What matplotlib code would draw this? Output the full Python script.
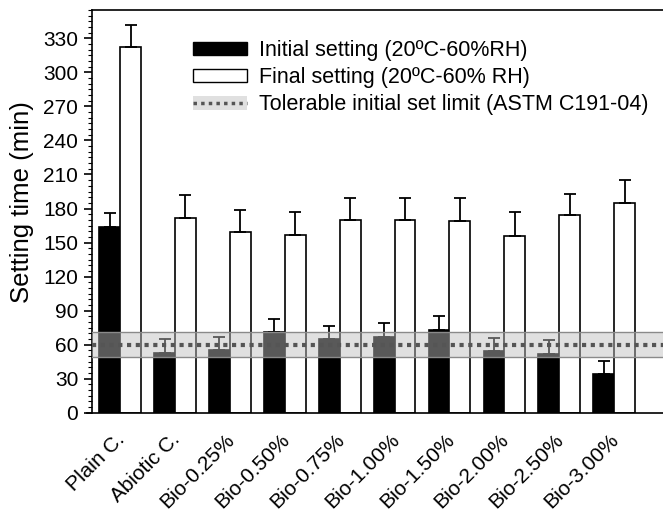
import matplotlib
matplotlib.use("Agg")
import matplotlib.pyplot as plt
import matplotlib.transforms as mtransforms
from matplotlib.patches import Patch
from matplotlib.lines import Line2D
from matplotlib.ticker import MultipleLocator
import numpy as np

plt.rcParams['font.family'] = ['Liberation Sans', 'DejaVu Sans']

mixes = ["Plain C.", "Abiotic C.", "Bio-0.25%", "Bio-0.50%", "Bio-0.75%",
         "Bio-1.00%", "Bio-1.50%", "Bio-2.00%", "Bio-2.50%", "Bio-3.00%"]
initial_set = [164, 53, 55, 71, 65, 67, 73, 54, 52, 34]
initial_err = [12, 12, 12, 12, 11, 12, 12, 12, 12, 12]
final_set = [322, 172, 159, 157, 170, 170, 169, 156, 174, 185]
final_err = [20, 20, 20, 20, 19, 19, 20, 21, 19, 20]
limit_low, limit_mid, limit_high = 49, 60, 71

fig = plt.figure(figsize=(6.63, 5.13), dpi=100)
ax = fig.add_axes([0.139, 0.1955, 0.861, 0.785])

x = np.arange(len(mixes))
w = 0.38
ax.bar(x - w / 2, initial_set, w, color="black", edgecolor="black", lw=1.2,
       yerr=[np.zeros(len(mixes)), initial_err], capsize=4.5,
       error_kw=dict(ecolor="black", elinewidth=1.3, capthick=1.3), zorder=2)
ax.bar(x + w / 2, final_set, w, color="white", edgecolor="black", lw=1.2,
       yerr=[np.zeros(len(mixes)), final_err], capsize=4.5,
       error_kw=dict(ecolor="black", elinewidth=1.3, capthick=1.3), zorder=2)

# ASTM tolerance band drawn over the bars
ax.axhspan(limit_low, limit_high, facecolor="#bebebe", alpha=0.47, edgecolor="none", zorder=3)
ax.axhline(limit_low, color="#8a8a8a", lw=1, zorder=3)
ax.axhline(limit_high, color="#8a8a8a", lw=1, zorder=3)
ax.axhline(limit_mid, color="#555555", lw=3, ls=(0, (1, 1.1)), zorder=4)

ax.set_xlim(-0.51, 9.89)
ax.set_ylim(0, 355)
ax.yaxis.set_major_locator(MultipleLocator(30))
ax.yaxis.set_minor_locator(MultipleLocator(5))
ax.tick_params(axis="y", which="major", length=6, width=1.2, labelsize=15, direction="out", pad=4)
ax.tick_params(axis="y", which="minor", length=3, width=0.8, direction="out")
ax.set_xticks(x)
ax.set_xticklabels(mixes, rotation=45, ha="right", va="baseline",
                   rotation_mode="anchor", fontsize=15)
ax.tick_params(axis="x", length=0, pad=20)
# nudge the rotated labels a little to the right of each group centre
shift = mtransforms.ScaledTranslation(4 / 72, 0, fig.dpi_scale_trans)
for lbl in ax.get_xticklabels():
    lbl.set_transform(lbl.get_transform() + shift)
ax.spines["right"].set_visible(False)
for s in ["left", "bottom", "top"]:
    ax.spines[s].set_linewidth(1.2)
ax.spines["bottom"].set_bounds(-0.6, 9.89)
ax.set_ylabel("Setting time (min)", fontsize=18.5)
ax.yaxis.set_label_coords(-0.102, 0.523)

handles = [
    Patch(facecolor="black", edgecolor="black"),
    Patch(facecolor="white", edgecolor="black"),
    (Patch(facecolor="#e0e0e0", edgecolor="none"),
     Line2D([], [], color="#555555", lw=2.5, ls=(0, (1, 1.2)))),
]
labels = ["Initial setting (20ºC-60%RH)", "Final setting (20ºC-60% RH)",
          "Tolerable initial set limit (ASTM C191-04)"]
ax.legend(handles, labels, loc="upper left", bbox_to_anchor=(0.177, 0.925),
          frameon=False, fontsize=15.5, handlelength=2.5, handleheight=0.6,
          labelspacing=0.28, handletextpad=0.55, borderpad=0, borderaxespad=0)

fig.savefig("out.png", dpi=100)
